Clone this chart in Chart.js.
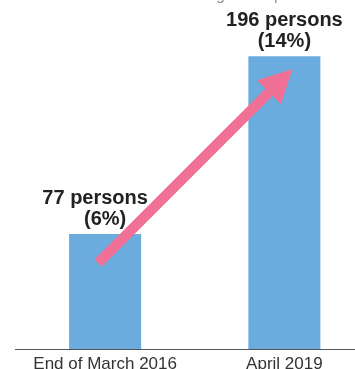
<!DOCTYPE html>
<html>
<head>
<meta charset="utf-8">
<script src="https://cdn.jsdelivr.net/npm/chart.js@4/dist/chart.umd.min.js"></script>
<style>
  html, body { margin: 0; padding: 0; background: #fff; overflow: hidden; }
  #wrap { position: relative; width: 374px; height: 372px; }
</style>
</head>
<body>
<div id="wrap"><canvas id="womenChart"></canvas></div>
<script>
const categories = ['End of March 2016', 'April 2019'];
const persons = [77, 196];
const shares = [6, 14];

// bold two-line value labels over each bar
// (first line of the left label is nudged so the arrow clears it)
const valueLabels = {
  id: 'valueLabels',
  afterDatasetsDraw(chart) {
    const ctx = chart.ctx;
    const meta = chart.getDatasetMeta(0);
    const nudge = [-10, 0];
    ctx.save();
    ctx.fillStyle = '#222';
    ctx.font = 'bold 20px "Liberation Sans", Arial, sans-serif';
    ctx.textAlign = 'center';
    ctx.textBaseline = 'alphabetic';
    meta.data.forEach((bar, i) => {
      ctx.fillText(persons[i] + ' persons', bar.x + nudge[i], bar.y - 30);
      ctx.fillText('(' + shares[i] + '%)', bar.x, bar.y - 9);
    });
    ctx.restore();
  }
};

// pink rising arrow from the first bar to the second
const trendArrow = {
  id: 'trendArrow',
  afterDraw(chart) {
    const ctx = chart.ctx;
    const xs = chart.scales.x;
    const ys = chart.scales.y;
    const x1 = xs.getPixelForValue(0) - 7, y1 = ys.getPixelForValue(57.5);
    const x2 = xs.getPixelForValue(1) + 8, y2 = ys.getPixelForValue(187.5);
    const ang = Math.atan2(y2 - y1, x2 - x1);
    const headLen = 33, headHalf = 17;
    const bx = x2 - Math.cos(ang) * headLen, by = y2 - Math.sin(ang) * headLen;
    ctx.save();
    ctx.strokeStyle = '#f07096';
    ctx.fillStyle = '#f07096';
    ctx.lineWidth = 10.5;
    ctx.lineCap = 'butt';
    ctx.beginPath();
    ctx.moveTo(x1, y1);
    ctx.lineTo(bx + Math.cos(ang) * 2, by + Math.sin(ang) * 2);
    ctx.stroke();
    ctx.beginPath();
    ctx.moveTo(x2, y2);
    ctx.lineTo(bx - Math.sin(ang) * headHalf, by + Math.cos(ang) * headHalf);
    ctx.lineTo(bx + Math.sin(ang) * headHalf, by - Math.cos(ang) * headHalf);
    ctx.closePath();
    ctx.fill();
    ctx.restore();
  }
};

// heading line that sits mostly above the top edge
const heading = {
  id: 'heading',
  afterDraw(chart) {
    const ctx = chart.ctx;
    ctx.save();
    ctx.fillStyle = '#999';
    ctx.font = '16px "Liberation Sans", Arial, sans-serif';
    ctx.textAlign = 'left';
    ctx.textBaseline = 'alphabetic';
    ctx.fillText('Number of women in management positions', 24, 0);
    ctx.restore();
  }
};

new Chart(document.getElementById('womenChart'), {
  type: 'bar',
  data: {
    labels: categories,
    datasets: [{
      data: persons,
      backgroundColor: '#6aacdd',
      borderWidth: 0,
      barPercentage: 1,
      categoryPercentage: 0.402
    }]
  },
  options: {
    responsive: true,
    maintainAspectRatio: false,
    animation: false,
    layout: { padding: { left: 15.5, right: 0, top: 10, bottom: 0 } },
    plugins: {
      legend: { display: false },
      tooltip: { enabled: false }
    },
    scales: {
      x: {
        grid: { display: false, drawTicks: false },
        border: { display: true, color: '#555', width: 1 },
        ticks: {
          color: '#333',
          padding: 5,
          font: { family: '"Liberation Sans", Arial, sans-serif', size: 17 }
        },
        afterFit(scale) { scale.height = 23; }
      },
      y: {
        display: false,
        beginAtZero: true,
        min: 0,
        max: 227
      }
    }
  },
  plugins: [valueLabels, trendArrow, heading]
});
</script>
</body>
</html>
